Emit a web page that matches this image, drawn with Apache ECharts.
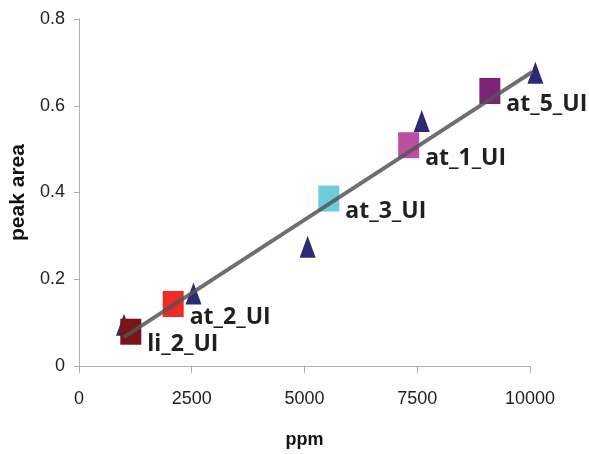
<!DOCTYPE html>
<html>
<head>
<meta charset="utf-8">
<script src="https://cdn.jsdelivr.net/npm/echarts@6/dist/echarts.min.js"></script>
<style>html,body{margin:0;padding:0;background:#fff}#c{width:589px;height:454px}</style>
</head>
<body>
<div id="c"></div>
<script>
// Data
const standardPpm = [1000, 2540, 5070, 7600, 10120];
const standardArea = [0.095, 0.167, 0.275, 0.565, 0.676];
const sampleNames = ['li_2_UI', 'at_2_UI', 'at_3_UI', 'at_1_UI', 'at_5_UI'];
const samplePpm = [1150, 2090, 5540, 7310, 9110];
const sampleArea = [0.079, 0.143, 0.386, 0.509, 0.634];
const fitPpm = [990, 10050];
const fitArea = [0.066, 0.678];
const xTicks = [0, 2500, 5000, 7500, 10000];
const yTicks = [0, 0.2, 0.4, 0.6, 0.8];

// Styles
const sampleColors = ['#7A1517', '#EE2B25', '#6CCCDA', '#BD4FA2', '#7D2478'];
const axisFont = '"Liberation Sans", Arial, sans-serif';

const chart = echarts.init(document.getElementById('c'), null, {renderer: 'canvas'});

const sampleSeries = sampleNames.map((name, i) => ({
  type: 'scatter',
  name: name,
  symbol: 'rect',
  symbolSize: [21, 26],
  clip: false,
  itemStyle: {color: sampleColors[i], opacity: 1},
  data: [[samplePpm[i], sampleArea[i]]],
  label: {
    show: true,
    position: 'right',
    distance: 6,
    offset: [0, 13],
    formatter: name,
    fontFamily: '"Open Sans", sans-serif',
    fontWeight: 'bold',
    fontSize: 23,
    color: '#231F20'
  },
  z: 3
}));

chart.setOption({
  animation: false,
  backgroundColor: '#fff',
  grid: {left: 76, right: 59, top: 19, bottom: 85, containLabel: false},
  xAxis: {
    type: 'value',
    min: xTicks[0], max: xTicks[xTicks.length - 1], interval: 2500,
    name: 'ppm', nameLocation: 'middle', nameGap: 65,
    nameTextStyle: {fontFamily: '"Liberation Sans", Arial, sans-serif', fontWeight: 'bold', fontSize: 18, color: '#111'},
    axisLine: {show: true, onZero: false, lineStyle: {color: '#b0b0b0', width: 1}},
    axisTick: {show: true, length: 7, lineStyle: {color: '#b0b0b0'}},
    axisLabel: {margin: 24, fontFamily: axisFont, fontSize: 18, color: '#222', formatter: v => String(v)},
    splitLine: {show: false}
  },
  yAxis: {
    type: 'value',
    min: yTicks[0], max: yTicks[yTicks.length - 1], interval: 0.2,
    name: 'peak area', nameLocation: 'middle', nameGap: 38,
    nameTextStyle: {fontFamily: '"Liberation Sans", Arial, sans-serif', fontWeight: 'bold', fontSize: 21, color: '#111'},
    axisLine: {show: true, lineStyle: {color: '#b0b0b0', width: 1}},
    axisTick: {show: true, length: 5, lineStyle: {color: '#b0b0b0'}},
    axisLabel: {margin: 14, fontFamily: axisFont, fontSize: 18, color: '#222', formatter: v => String(v)},
    splitLine: {show: false}
  },
  series: [
    {
      type: 'scatter',
      name: 'standards',
      symbol: 'triangle',
      symbolSize: [16, 22],
      clip: false,
      itemStyle: {color: '#2B2A73', opacity: 1},
      data: standardPpm.map((x, i) => [x, standardArea[i]]),
      z: 2
    },
    ...sampleSeries,
    {
      type: 'line',
      name: 'fit',
      showSymbol: false,
      silent: true,
      clip: false,
      lineStyle: {color: '#555555', width: 4, opacity: 0.85},
      data: fitPpm.map((x, i) => [x, fitArea[i]]),
      z: 5
    }
  ]
});
</script>
</body>
</html>
